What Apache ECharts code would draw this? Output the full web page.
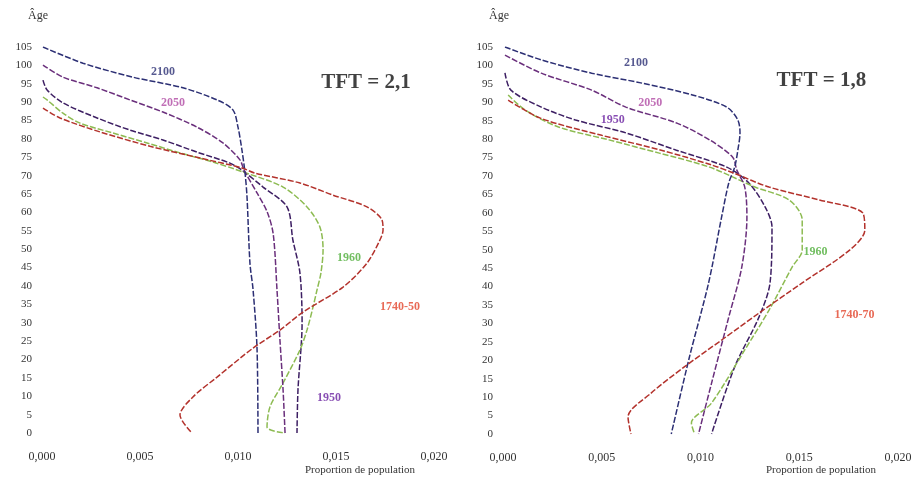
<!DOCTYPE html>
<html>
<head>
<meta charset="utf-8">
<script src="https://cdn.jsdelivr.net/npm/echarts@6/dist/echarts.min.js"></script>
<style>
	html, body { margin: 0; background: #fff; }
	#chart { width: 918px; height: 485px; }
</style>
</head>
<body>
<div id="chart"></div>
<script>
// [proportion, age] pairs
const tft21_1740 = [[0.00005, 88.4], [0.00092, 85.7], [0.00296, 81.9], [0.00551, 78], [0.00806, 74.8], [0.0102, 72.1], [0.01087, 70.7], [0.01316, 68], [0.01485, 64.7], [0.01658, 61.5], [0.01735, 57.9], [0.0174, 55.2], [0.01724, 52.5], [0.01658, 46.2], [0.01536, 39.7], [0.01332, 32.9], [0.01214, 28], [0.01077, 23.1], [0.00893, 15.2], [0.0077, 9.8], [0.00704, 4.9], [0.00765, 0]];
const tft21_1950 = [[0.00005, 96], [0.00026, 93.3], [0.00107, 89.8], [0.00281, 85.7], [0.00449, 82.4], [0.00617, 79.7], [0.00791, 76.4], [0.00959, 73.4], [0.0102, 71.5], [0.01128, 66.9], [0.0125, 61.5], [0.0128, 52.5], [0.01316, 43.5], [0.01327, 29.9], [0.01306, 11.7], [0.01301, 0]];
const tft21_1960 = [[0.00005, 91.4], [0.00026, 90.6], [0.00107, 87], [0.00194, 84.3], [0.00362, 81.6], [0.00536, 78.9], [0.00704, 76.2], [0.00872, 73.7], [0.01026, 71], [0.0123, 66.9], [0.01352, 61.5], [0.01418, 56], [0.01434, 49.8], [0.01423, 43.5], [0.01403, 38.9], [0.01383, 34.3], [0.01352, 28], [0.01316, 22.6], [0.0123, 13.6], [0.01163, 7.1], [0.01148, 1.6], [0.0124, 0]];
const tft21_2050 = [[0.00005, 100.1], [0.00107, 96.8], [0.00281, 93.9], [0.00449, 90.6], [0.00617, 87.3], [0.00791, 83.2], [0.00923, 78.9], [0.0101, 74.3], [0.01031, 71.5], [0.01097, 65.3], [0.0115, 60], [0.0118, 54], [0.01199, 38.9], [0.01214, 25.3], [0.0123, 11.7], [0.0124, 0]];
const tft21_2100 = [[0.00005, 105], [0.00209, 100.6], [0.00464, 96.8], [0.00719, 93.9], [0.00893, 90.6], [0.00974, 87.9], [0.0100, 83.2], [0.0102, 77], [0.01036, 70.7], [0.01046, 64.2], [0.01061, 46.2], [0.01077, 38.9], [0.01097, 23.1], [0.01102, 0]];

const tft18_1740 = [[0.00026, 90.6], [0.00189, 85.7], [0.00495, 81.1], [0.00801, 77], [0.01056, 73], [0.01168, 70.8], [0.01347, 67], [0.01602, 63.5], [0.01821, 60], [0.01832, 55.3], [0.01755, 49.9], [0.01515, 41], [0.01296, 32.8], [0.01107, 25.5], [0.00918, 18.2], [0.0075, 11.1], [0.00633, 4.6], [0.00648, 0]];
const tft18_1950 = [[0.0001, 98], [0.0004, 93.3], [0.00194, 88.7], [0.00367, 85.2], [0.00622, 81.7], [0.00878, 77], [0.01133, 72.4], [0.01245, 68.1], [0.01327, 61.6], [0.01362, 56.2], [0.01352, 41], [0.01296, 31.7], [0.01173, 18.2], [0.01056, 0]];
const tft18_1960 = [[0.00026, 92], [0.00112, 87.9], [0.00281, 83.3], [0.00536, 79.8], [0.00791, 76.2], [0.01046, 72.4], [0.01276, 67], [0.01449, 63.5], [0.01515, 58.1], [0.01515, 49.9], [0.01464, 45.3], [0.01347, 33.6], [0.01224, 22.8], [0.01056, 8.4], [0.00954, 3], [0.0097, 0]];
const tft18_2050 = [[0.0001, 102.8], [0.00194, 97.9], [0.00449, 93.3], [0.00622, 88.7], [0.00878, 84.4], [0.01046, 79.8], [0.01163, 75.1], [0.01184, 71.6], [0.01224, 67], [0.01235, 58.9], [0.01209, 45.3], [0.01143, 31.7], [0.01056, 13.8], [0.0099, 0]];
const tft18_2100 = [[0.0001, 105], [0.00194, 101.5], [0.00449, 97.9], [0.00704, 95.2], [0.00959, 92], [0.01133, 88.7], [0.01189, 85.2], [0.0120, 81.7], [0.01189, 77], [0.01173, 72.4], [0.01143, 68.1], [0.01107, 58.9], [0.01041, 41], [0.00944, 20.9], [0.00852, 0]];

const xTicks = [0, 0.005, 0.01, 0.015, 0.02];
const ageMax = 105;
const panelTitles = ["TFT = 2,1", "TFT = 1,8"];
const xAxisTitle = "Proportion de population";
const yAxisTitle = "Âge";

// curve labels: [proportion, age, text]
const labels21 = [[0.00617, 98.2, "2100"], [0.00668, 89.8, "2050"], [0.01566, 47.6, "1960"], [0.01827, 34.3, "1740-50"], [0.01464, 9.5, "1950"]];
const labels18 = [[0.00673, 100.6, "2100"], [0.00745, 89.8, "2050"], [0.00556, 85.2, "1950"], [0.01582, 49.4, "1960"], [0.0178, 32.3, "1740-70"]];
const titlePos = [[0.01653, 95.2], [0.01612, 96]];

const colors = { "1740": "#b3322c", "1950": "#3d1f63", "1960": "#8dbb52", "2050": "#6a2f7c", "2100": "#2c2f74" };
const labelColors = { "2100": "#2c2f74", "2050": "#b04aa4", "1950": "#6a22a0", "1960": "#4fae3a", "1740": "#e2452c" };
const FONT = "'Liberation Serif', 'DejaVu Serif', serif";

const grids = [
	{ left: 42, top: 47, width: 392, height: 386 },
	{ left: 503, top: 47, width: 395, height: 387 },
];

function curve(name, data, idx) {
	return {
		type: "line",
		name: name,
		xAxisIndex: idx,
		yAxisIndex: idx,
		data: data,
		smooth: 0.3,
		showSymbol: false,
		lineStyle: { color: colors[name], width: 1.5, type: [6, 2] },
		z: name === "1740" ? 3 : 2,
	};
}

function labelSeries(list, idx) {
	return {
		type: "scatter",
		xAxisIndex: idx,
		yAxisIndex: idx,
		symbolSize: 0,
		silent: true,
		z: 5,
		data: list.map((l) => ({
			value: [l[0], l[1]],
			label: {
				show: true,
				position: "inside",
				formatter: l[2],
				fontFamily: FONT,
				fontSize: 12,
				fontWeight: "bold",
				color: labelColors[l[2].slice(0, 4)],
			},
		})),
	};
}

function titleSeries(idx) {
	return {
		type: "scatter",
		xAxisIndex: idx,
		yAxisIndex: idx,
		symbolSize: 0,
		silent: true,
		data: [{
			value: titlePos[idx],
			label: {
				show: true,
				position: "inside",
				formatter: panelTitles[idx],
				fontFamily: FONT,
				fontSize: 21,
				fontWeight: "bold",
				color: "#111",
			},
		}],
	};
}

const xAxes = grids.map((g, i) => ({
	type: "value",
	gridIndex: i,
	min: xTicks[0],
	max: xTicks[xTicks.length - 1],
	interval: xTicks[1] - xTicks[0],
	axisLine: { show: false },
	axisTick: { show: false },
	splitLine: { show: false },
	axisLabel: {
		margin: 18,
		fontFamily: FONT,
		fontSize: 12,
		color: "#333",
		formatter: (v) => v.toFixed(3).replace(".", ","),
	},
}));

const yAxes = grids.map((g, i) => ({
	type: "value",
	gridIndex: i,
	min: 0,
	max: ageMax,
	interval: 5,
	axisLine: { show: false },
	axisTick: { show: false },
	splitLine: { show: false },
	axisLabel: { margin: 10, fontFamily: FONT, fontSize: 11, color: "#333" },
}));

const chart = echarts.init(document.getElementById("chart"));
chart.setOption({
	animation: false,
	backgroundColor: "#fff",
	textStyle: { fontFamily: FONT },
	grid: grids,
	xAxis: xAxes,
	yAxis: yAxes,
	graphic: [
		{ type: "text", left: 28, top: 10, style: { text: yAxisTitle, font: "12px " + FONT, fill: "#333" } },
		{ type: "text", left: 489, top: 10, style: { text: yAxisTitle, font: "12px " + FONT, fill: "#333" } },
		{ type: "text", left: 305, top: 465, style: { text: xAxisTitle, font: "11px " + FONT, fill: "#333" } },
		{ type: "text", left: 766, top: 465, style: { text: xAxisTitle, font: "11px " + FONT, fill: "#333" } },
	],
	series: [
		curve("1740", tft21_1740, 0),
		curve("1950", tft21_1950, 0),
		curve("1960", tft21_1960, 0),
		curve("2050", tft21_2050, 0),
		curve("2100", tft21_2100, 0),
		curve("1740", tft18_1740, 1),
		curve("1950", tft18_1950, 1),
		curve("1960", tft18_1960, 1),
		curve("2050", tft18_2050, 1),
		curve("2100", tft18_2100, 1),
		labelSeries(labels21, 0),
		labelSeries(labels18, 1),
		titleSeries(0),
		titleSeries(1),
	],
});
</script>
</body>
</html>
